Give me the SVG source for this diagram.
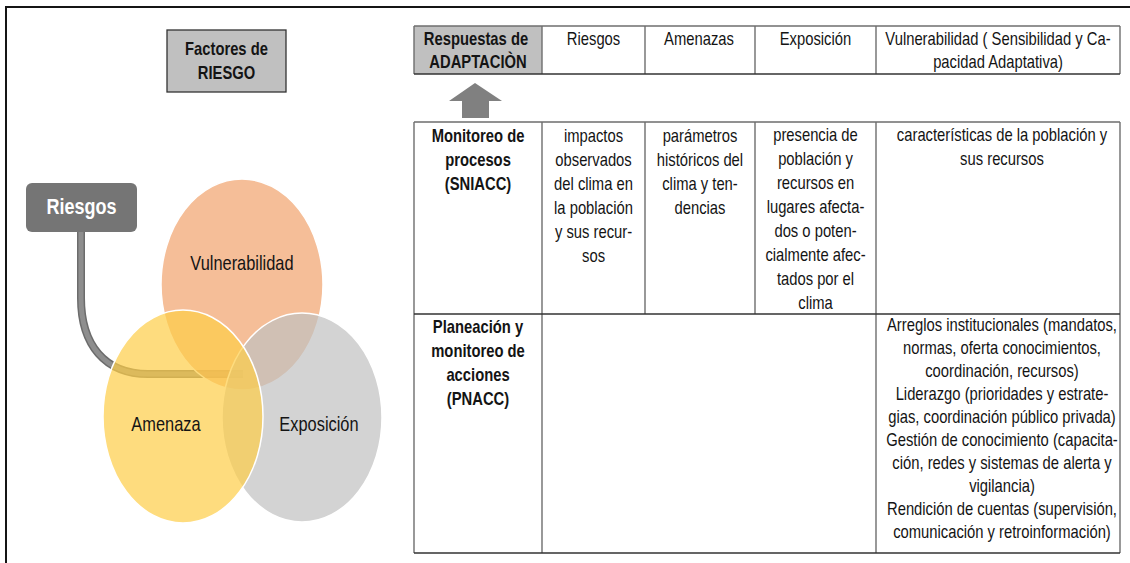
<svg xmlns="http://www.w3.org/2000/svg" width="1130" height="563" viewBox="0 0 1130 563">
<style>
.t{font-family:"Liberation Sans",Arial,sans-serif;font-size:17.5px;fill:#141414;text-anchor:middle}
.b{font-weight:bold}
.lbl{font-size:20px}
.grid{stroke:#6e6e6e;stroke-width:1.4;fill:none}
.hd{stroke:#333;stroke-width:1.6;fill:none}
.venn{stroke:#ffffff;stroke-width:1.5;fill-opacity:0.7}
</style>
<rect width="1130" height="563" fill="#ffffff"/>
<g id="frame">
<path d="M6,563 V7 H1130" fill="none" stroke="#151515" stroke-width="2"/>
</g>
<g id="factores">
<rect x="167" y="30" width="119" height="62" fill="#c0c0c0" stroke="#333" stroke-width="1.3"/>
<g transform="scale(0.82,1)">
<text class="t b" x="276.2" y="55.5" style="font-size:18px">Factores de</text>
<text class="t b" x="276.2" y="79" style="font-size:18px">RIESGO</text>
</g>
</g>
<g id="connectors">
<path d="M81,232 V298 C81,345 105,374 148,374 H243" fill="none" stroke="#6c6c6c" stroke-width="8"/>
<path d="M81,232 V298 C81,345 105,374 148,374 H243" fill="none" stroke="#8e8e8e" stroke-width="5"/>
</g>
<g id="riesgos">
<rect x="26" y="183" width="111" height="49" rx="6" fill="#757575"/>
<g transform="scale(0.82,1)">
<text class="t b" x="99.4" y="214.5" style="font-size:22px;fill:#ffffff">Riesgos</text>
</g>
</g>
<g id="vulnerabilidad">
<ellipse class="venn" cx="242" cy="284.5" rx="81" ry="105.5" fill="#f1a26c"/>
</g>
<g id="exposicion">
<ellipse class="venn" cx="302" cy="417.5" rx="80" ry="104.5" fill="#c0c0c0"/>
</g>
<g id="amenaza">
<ellipse class="venn" cx="183" cy="416.5" rx="80" ry="106.5" fill="#fecd47"/>
</g>
<g id="venn-labels" transform="scale(0.82,1)">
<text class="t lbl" x="295.1" y="270">Vulnerabilidad</text>
<text class="t lbl" x="202.4" y="431.5">Amenaza</text>
<text class="t lbl" x="389" y="431.5">Exposición</text>
</g>
<g id="arrow">
<path d="M475,83 L502,101 L489,101 L489,118 L462,118 L462,101 L449,101 Z" fill="#808080"/>
</g>
<g id="table">
<rect x="414" y="26" width="128" height="48" fill="#c0c0c0"/>
<path class="grid" d="M414,26 V74 M542,26 V74 M645,26 V74 M755,26 V74 M876,26 V74 M1120,26 V74"/>
<path class="grid" d="M414,26 H1120"/>
<path class="hd" d="M414,74 H1120"/>
<path class="grid" d="M414,122 H1120 M414,122 V553 M542,122 V553 M645,122 V314 M755,122 V314 M876,122 V553 M1120,122 V553"/>
<path class="hd" d="M414,314 H1120 M414,553 H1120"/>
</g>
<g id="header" transform="scale(0.845,1)">
<text class="t b" x="563.3" y="45">Respuestas de</text>
<text class="t b" x="565.7" y="68">ADAPTACIÒN</text>
<text class="t" x="702.4" y="45">Riesgos</text>
<text class="t" x="827.2" y="45">Amenazas</text>
<text class="t" x="965.1" y="45">Exposición</text>
<text class="t" x="1181.1" y="45">Vulnerabilidad ( Sensibilidad y Ca-</text>
<text class="t" x="1181.1" y="68">pacidad Adaptativa)</text>
</g>
<g id="row-sniacc" transform="scale(0.845,1)">
<text class="t b" x="565.7" y="142">Monitoreo de</text>
<text class="t b" x="565.7" y="166">procesos</text>
<text class="t b" x="565.7" y="190">(SNIACC)</text>
<text class="t" x="702.4" y="142">impactos</text>
<text class="t" x="702.4" y="166">observados</text>
<text class="t" x="702.4" y="190">del clima en</text>
<text class="t" x="702.4" y="214">la población</text>
<text class="t" x="702.4" y="238">y sus recur-</text>
<text class="t" x="702.4" y="262">sos</text>
<text class="t" x="828.4" y="142">parámetros</text>
<text class="t" x="828.4" y="166">históricos del</text>
<text class="t" x="828.4" y="190">clima y ten-</text>
<text class="t" x="828.4" y="214">dencias</text>
<text class="t" x="965.1" y="141">presencia de</text>
<text class="t" x="965.1" y="165">población y</text>
<text class="t" x="965.1" y="189">recursos en</text>
<text class="t" x="965.1" y="213">lugares afecta-</text>
<text class="t" x="965.1" y="237">dos o poten-</text>
<text class="t" x="965.1" y="261">cialmente afec-</text>
<text class="t" x="965.1" y="285">tados por el</text>
<text class="t" x="965.1" y="309">clima</text>
<text class="t" x="1185.8" y="141">características de la población y</text>
<text class="t" x="1185.8" y="165">sus recursos</text>
</g>
<g id="row-pnacc" transform="scale(0.845,1)">
<text class="t b" x="565.7" y="333">Planeación y</text>
<text class="t b" x="565.7" y="357">monitoreo de</text>
<text class="t b" x="565.7" y="381">acciones</text>
<text class="t b" x="565.7" y="405">(PNACC)</text>
<text class="t" x="1185.8" y="331">Arreglos institucionales (mandatos,</text>
<text class="t" x="1185.8" y="354">normas, oferta conocimientos,</text>
<text class="t" x="1185.8" y="377">coordinación, recursos)</text>
<text class="t" x="1185.8" y="400">Liderazgo (prioridades y estrate-</text>
<text class="t" x="1185.8" y="423">gias, coordinación público privada)</text>
<text class="t" x="1185.8" y="446">Gestión de conocimiento (capacita-</text>
<text class="t" x="1185.8" y="469">ción, redes y sistemas de alerta y</text>
<text class="t" x="1185.8" y="492">vigilancia)</text>
<text class="t" x="1185.8" y="515">Rendición de cuentas (supervisión,</text>
<text class="t" x="1185.8" y="538">comunicación y retroinformación)</text>
</g>
</svg>
